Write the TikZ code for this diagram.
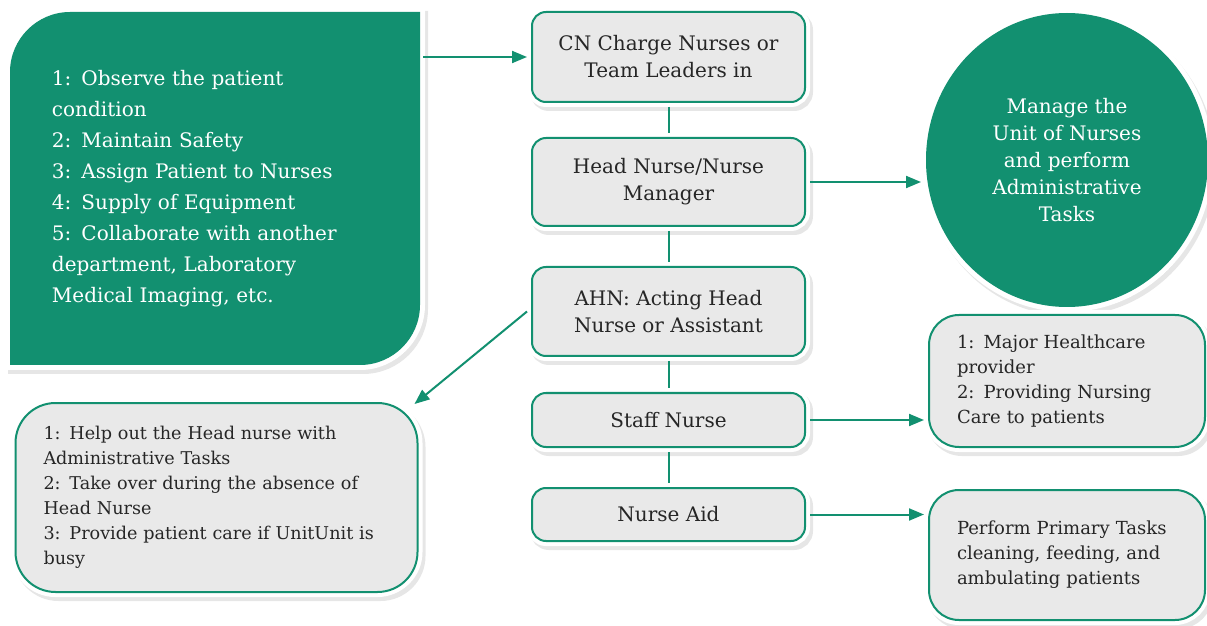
\documentclass[tikz,border=0pt]{standalone}
\usepackage{fontspec}
\setmainfont{DejaVu Serif}
\usetikzlibrary{shapes.geometric, shadows, arrows.meta, backgrounds}
\definecolor{nurse}{RGB}{18,144,112}
\definecolor{panel}{RGB}{233,233,233}

\begin{document}
\begin{tikzpicture}[
        x=0.5pt, y=-0.5pt,
        soft/.style={drop shadow={opacity=0.2, shadow xshift=1.5pt, shadow yshift=-2pt,
            draw=black!50, line width=5pt},
            preaction={draw=white, line width=5pt}},
        role/.style={soft, draw=nurse, line width=1pt, fill=panel, rounded corners=7pt,
            minimum width=136.5pt, outer sep=2.5pt, align=center, text=black!85,
            font=\fontsize{10}{13.5}\selectfont},
        note/.style={role, align=left, rounded corners=15pt, inner xsep=14pt,
            text width=110pt, font=\fontsize{9}{12.5}\selectfont},
        link/.style={draw=nurse, line width=1pt, -{Triangle[length=7.5pt, width=6pt]}},
        tie/.style={draw=nurse, line width=1pt}
    ]
    \useasboundingbox (0,0) rectangle (1207,626);

    \node[role, minimum height=45pt]   (CN)  at (668.5, 57)    {CN Charge Nurses or\\Team Leaders in};
    \node[role, minimum height=44pt]   (HN)  at (668.5, 182)   {Head Nurse/Nurse\\Manager};
    \node[role, minimum height=44.5pt] (AHN) at (668.5, 311.5) {AHN: Acting Head\\Nurse or Assistant};
    \node[role, minimum height=27pt]   (SN)  at (668.5, 420)   {Staff Nurse};
    \node[role, minimum height=26.5pt] (NA)  at (668.5, 514.5) {Nurse Aid};

    \node[text=white, align=left, text width=163pt, inner xsep=0pt, outer sep=0pt,
        minimum width=205pt, minimum height=176.5pt,
        font=\fontsize{10}{15.5}\selectfont] (Duties) at (215, 188.5)
        {1: Observe the patient\\condition\\2: Maintain Safety\\3: Assign Patient to Nurses\\
         4: Supply of Equipment\\5: Collaborate with another\\department, Laboratory\\
         Medical Imaging, etc.};
    \begin{scope}[on background layer]
        \path[soft, fill=nurse] (Duties.south west)
            -- ([yshift=-30pt]Duties.north west)
            .. controls ([yshift=-13.5pt]Duties.north west) and ([xshift=13.5pt]Duties.north west)
            .. ([xshift=30pt]Duties.north west)
            -- (Duties.north east)
            -- ([yshift=30pt]Duties.south east)
            .. controls ([yshift=13.5pt]Duties.south east) and ([xshift=-13.5pt]Duties.south east)
            .. ([xshift=-30pt]Duties.south east)
            -- cycle;
    \end{scope}

    \node[ellipse, soft, fill=nurse, minimum width=141pt, minimum height=147pt, outer sep=2.5pt,
        text=white, align=center, font=\fontsize{10}{13.5}\selectfont] (Manage) at (1067, 160)
        {Manage the\\Unit of Nurses\\and perform\\Administrative\\Tasks};

    \node[note, text width=173pt, rounded corners=20pt, minimum height=94.5pt,
        font=\fontsize{8.8}{12.5}\selectfont] (ActNotes) at (216.5, 497.5)
        {1: Help out the Head nurse with\\Administrative Tasks\\2: Take over during the absence of\\
         Head Nurse\\3: Provide patient care if UnitUnit is\\busy};
    \node[note, minimum height=66pt] (StaffNotes) at (1067, 381)
        {1: Major Healthcare\\provider\\2: Providing Nursing\\Care to patients};
    \node[note, minimum height=65pt] (AidNotes) at (1067, 555)
        {Perform Primary Tasks\\cleaning, feeding, and\\ambulating patients};

    \draw[tie] (CN) -- (HN) -- (AHN) -- (SN) -- (NA);
    \draw[link] ([xshift=1.5pt]Duties.east |- CN.west) -- (CN.west);
    \draw[link] (HN.east) -- (Manage.west |- HN.east);
    \draw[link] (AHN.west) -- ([shift={(-4pt,-3pt)}]ActNotes.north east);
    \draw[link] (SN.east) -- (SN.east -| StaffNotes.west);
    \draw[link] (NA.east) -- (NA.east -| AidNotes.west);
\end{tikzpicture}
\end{document}
